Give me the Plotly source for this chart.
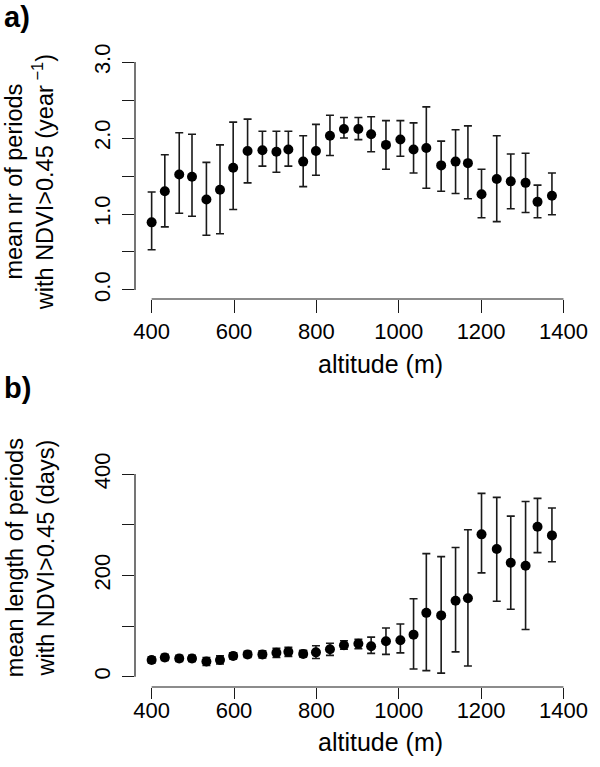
import plotly.graph_objects as go

# ---------------- data ----------------
altitude = [400, 432, 467, 498, 533, 566, 598, 633, 669, 703, 732, 768, 799, 833, 867,
            902, 933, 969, 1004, 1036, 1067, 1103, 1138, 1168, 1201, 1238, 1272, 1308, 1337, 1372]

nr_mean = [0.89, 1.30, 1.52, 1.49, 1.19, 1.32, 1.61, 1.83, 1.84, 1.82, 1.85, 1.69, 1.83, 2.03, 2.12,
           2.12, 2.05, 1.91, 1.98, 1.85, 1.87, 1.64, 1.69, 1.67, 1.26, 1.46, 1.43, 1.41, 1.16, 1.24]
nr_upper = [1.29, 1.78, 2.07, 2.05, 1.68, 1.91, 2.21, 2.25, 2.09, 2.09, 2.09, 2.03, 2.18, 2.30, 2.27,
            2.27, 2.28, 2.23, 2.23, 2.20, 2.41, 1.96, 2.11, 2.16, 1.59, 2.03, 1.79, 1.80, 1.38, 1.54]
nr_lower = [0.53, 0.83, 1.01, 0.97, 0.72, 0.74, 1.06, 1.41, 1.63, 1.55, 1.63, 1.36, 1.51, 1.77, 2.00,
            1.98, 1.82, 1.59, 1.76, 1.54, 1.34, 1.30, 1.27, 1.20, 0.95, 0.90, 1.07, 1.02, 0.95, 0.99]

len_mean = [33, 38, 36, 36, 30, 33, 41, 44, 44, 47, 49, 45, 48, 54, 62,
            65, 60, 70, 72, 83, 126, 121, 150, 155, 281, 252, 225, 219, 296, 279]
len_upper = [39, 44, 42, 42, 38, 41, 47, 50, 51, 56, 58, 52, 61, 66, 71,
             74, 78, 96, 104, 154, 243, 237, 255, 290, 362, 354, 317, 346, 352, 333]
len_lower = [27, 32, 30, 30, 22, 25, 35, 38, 37, 38, 40, 39, 36, 42, 54,
             55, 46, 44, 47, 15, 12, 7, 49, 21, 205, 149, 133, 93, 245, 227]

x_ticks = [400, 600, 800, 1000, 1200, 1400]
ya_ticks = [0.0, 0.5, 1.0, 1.5, 2.0, 2.5, 3.0]
ya_labels = ["0.0", "", "1.0", "", "2.0", "", "3.0"]
yb_ticks = [0, 100, 200, 300, 400]
yb_labels = ["0", "", "200", "", "400"]

# ---------------- figure ----------------
FONT = "Liberation Sans, Arial, Helvetica, sans-serif"
INK = "#1a1a1a"

W, H = 600, 767
ML, MR, MT, MB = 135, 23, 53, 80
PH = H - MT - MB


def py(pix):  # pixel row -> paper y
    return (H - MB - pix) / PH


def px(pix):  # pixel column -> paper x
    return (pix - ML) / (W - ML - MR)


fig = go.Figure()


def add_series(y, up, lo, xa, ya):
    fig.add_trace(go.Scatter(
        x=altitude, y=y, mode="markers", xaxis=xa, yaxis=ya,
        marker=dict(size=10, color="black"),
        error_y=dict(type="data", symmetric=False,
                     array=[u - m for u, m in zip(up, y)],
                     arrayminus=[m - l for m, l in zip(y, lo)],
                     color=INK, thickness=1.6, width=4),
        showlegend=False, hoverinfo="skip"))


add_series(nr_mean, nr_upper, nr_lower, "x", "y")
add_series(len_mean, len_upper, len_lower, "x2", "y2")


def axis_common(ticklen=12):
    return dict(showgrid=False, zeroline=False, showline=False, ticks="outside",
                ticklen=ticklen, tickwidth=1.2, tickcolor=INK, ticklabeloverflow="allow",
                tickfont=dict(family=FONT, size=22, color="black"))


fig.update_layout(
    width=W, height=H, paper_bgcolor="white", plot_bgcolor="white",
    margin=dict(l=ML, r=MR, t=MT, b=MB),
    xaxis=dict(domain=[0, 1], anchor="y", range=[359.6, 1411], tickvals=x_ticks,
               **axis_common(13)),
    yaxis=dict(domain=[py(299), 1], anchor="x", range=[-0.119, 3.12], tickvals=ya_ticks,
               ticktext=ya_labels, tickangle=-90, ticklabelstandoff=3, **axis_common()),
    xaxis2=dict(domain=[0, 1], anchor="y2", range=[359.6, 1411], tickvals=x_ticks,
                ticklabelstandoff=-7, **axis_common(11)),
    yaxis2=dict(domain=[0, py(466)], anchor="x2", range=[-20.4, 416], tickvals=yb_ticks,
                ticktext=yb_labels, tickangle=-90, ticklabelstandoff=3, **axis_common()),
)

# axis lines spanning first to last tick (R style)
line = dict(color=INK, width=1.2)
fig.add_shape(type="line", xref="x domain", x0=0, x1=0, yref="y", y0=0, y1=3, line=line)
fig.add_shape(type="line", xref="x", x0=400, x1=1400, yref="y domain", y0=0, y1=0, line=line)
fig.add_shape(type="line", xref="x2 domain", x0=0, x1=0, yref="y2", y0=0, y1=400, line=line)
fig.add_shape(type="line", xref="x2", x0=400, x1=1400, yref="y2 domain", y0=0, y1=0, line=line)

xt = dict(family=FONT, size=25, color="black")
yt = dict(family=FONT, size=23.5, color="black")
annos = [
    dict(text="altitude (m)", x=px(386), y=py(364), xanchor="center", yanchor="middle", font=xt),
    dict(text="altitude (m)", x=px(386), y=py(742), xanchor="center", yanchor="middle", font=xt),
    dict(text="mean nr of periods<br>with NDVI>0.45 (year<sup> −1</sup>)", x=px(28), y=py(182),
         xanchor="center", yanchor="middle", textangle=-90, font=yt),
    dict(text="mean length of periods<br>with NDVI>0.45 (days)", x=px(28), y=py(558),
         xanchor="center", yanchor="middle", textangle=-90, font=yt),
]
for a in annos:
    fig.add_annotation(xref="paper", yref="paper", showarrow=False, **a)

lab = dict(family=FONT, size=29, color="black")
fig.add_annotation(xref="paper", yref="paper", x=px(0), y=py(0), xanchor="left", yanchor="top",
                   borderpad=0, text="<b>a)</b>", showarrow=False, font=lab)
fig.add_annotation(xref="paper", yref="paper", x=px(0), y=py(371), xanchor="left", yanchor="top",
                   borderpad=0, text="<b>b)</b>", showarrow=False, font=lab)

fig.write_html("out.html", config={"displayModeBar": False},
               post_script="document.body.style.margin='0';")
